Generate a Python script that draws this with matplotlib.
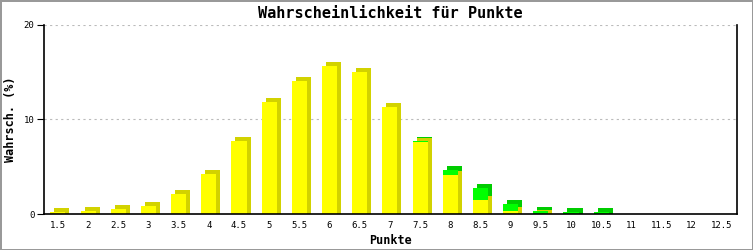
import matplotlib
matplotlib.use('Agg')
import matplotlib.pyplot as plt
import matplotlib.transforms as mtransforms
import numpy as np

punkte = ['1.5', '2', '2.5', '3', '3.5', '4', '4.5', '5', '5.5', '6', '6.5', '7',
          '7.5', '8', '8.5', '9', '9.5', '10', '10.5', '11', '11.5', '12', '12.5']
gelb = [0.2, 0.3, 0.5, 0.85, 2.1, 4.2, 7.75, 11.9, 14.1, 15.7, 15.05, 11.35,
        7.6, 4.15, 1.45, 0.35, 0.05, 0.0, 0.0, 0, 0, 0, 0]
gruen = [0, 0, 0, 0, 0, 0, 0, 0, 0, 0, 0, 0,
         0.1, 0.55, 1.25, 0.75, 0.3, 0.18, 0.18, 0, 0, 0, 0]

plt.rcParams['font.family'] = ['DejaVu Sans Mono']

fig = plt.figure(figsize=(7.53, 2.5), dpi=100)
fig.patch.set_edgecolor('#999999')
fig.patch.set_linewidth(2)
ax_h = 189
ax = fig.add_axes([44/753, 36/250, 693/753, ax_h/250])

x = np.arange(len(punkte))
w = 0.5
ymax = 20
# 3D-Effekt: dunkler Schatten um 4px nach rechts oben versetzt
tiefe = 4
off = ax.transData + mtransforms.ScaledTranslation(tiefe/100, tiefe/100, fig.dpi_scale_trans)
tiefe_data = tiefe * ymax / ax_h
g = np.array(gelb)
gr = np.array(gruen)
mask_g = g > 0
mask_gr = gr > 0
# Schatten des gruenen Teils bis zur Achse ziehen, wenn kein gelber Teil da ist
gr_unten = np.where(g > 0, g, -tiefe_data)
ax.bar(x[mask_g], g[mask_g] + tiefe_data, w, bottom=-tiefe_data, color='#d2d200',
       transform=off, zorder=2, antialiased=False)
ax.bar(x[mask_gr], (g + gr - gr_unten)[mask_gr], w, bottom=gr_unten[mask_gr],
       color='#00cc00', transform=off, zorder=2, antialiased=False)
ax.bar(x[mask_g], g[mask_g], w, color='#ffff00', zorder=3, antialiased=False)
ax.bar(x[mask_gr], gr[mask_gr], w, bottom=g[mask_gr], color='#00ff00', zorder=3,
       antialiased=False)

ax.set_xlim(-0.46, 22.5)
ax.set_ylim(0, ymax)
ax.set_yticks([0, 10, 20])
ax.set_xticks(x)
ax.set_xticklabels(punkte)
ax.tick_params(axis='x', length=0, labelsize=6.5, pad=5)
ax.tick_params(axis='y', length=5, labelsize=6.5, pad=2)
ax.grid(axis='y', color='#bbbbbb', linestyle=(0, (2, 3)), linewidth=0.8, zorder=0)
ax.spines['top'].set_visible(False)
for s in ['left', 'bottom', 'right']:
    ax.spines[s].set_linewidth(1.2)
    ax.spines[s].set_zorder(4)

ax.set_title('Wahrscheinlichkeit für Punkte', fontsize=11, fontweight='bold', pad=5)
ax.set_xlabel('Punkte', fontsize=8.5, fontweight='bold', labelpad=3)
ax.set_ylabel('Wahrsch. (%)', fontsize=8.5, fontweight='bold', labelpad=5)

fig.savefig('out.png', dpi=100, edgecolor=fig.get_edgecolor())
